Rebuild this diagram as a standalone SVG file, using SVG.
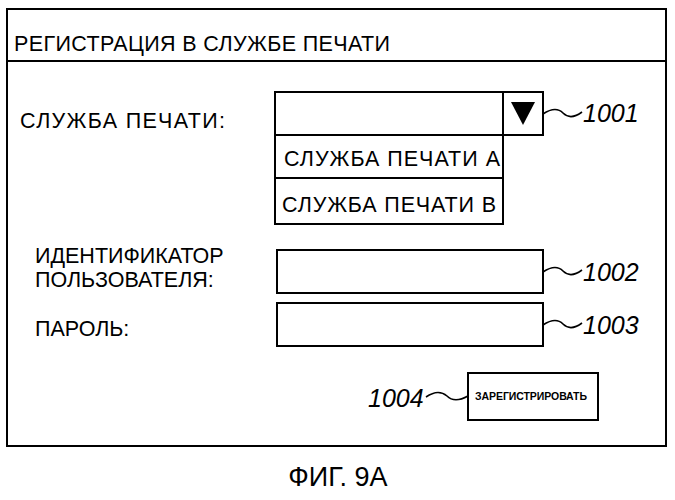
<svg xmlns="http://www.w3.org/2000/svg" width="675" height="500" viewBox="0 0 675 500">
<style>
.b{fill:#fff;stroke:#000;stroke-width:2}
.t{font-family:"Liberation Sans",Arial,sans-serif;fill:#000;font-size:21.5px}
.r{font-family:"Liberation Sans",Arial,sans-serif;font-style:italic;fill:#000;font-size:25px}
.w{fill:none;stroke:#000;stroke-width:1.6}
</style>
<rect width="675" height="500" fill="#fff"/>
<g id="window">
<rect class="b" x="7" y="9" width="659" height="437"/>
<line x1="7" y1="61" x2="666" y2="61" stroke="#000" stroke-width="2"/>
<text class="t" x="14" y="51" textLength="376">РЕГИСТРАЦИЯ В СЛУЖБЕ ПЕЧАТИ</text>
</g>
<g id="service-label"><text class="t" x="20" y="128" textLength="205">СЛУЖБА ПЕЧАТИ:</text></g>
<g id="n1001">
<rect class="b" x="275" y="92" width="268" height="43"/>
<line x1="503" y1="92" x2="503" y2="135" stroke="#000" stroke-width="2"/>
<polygon points="511,102 535,102 523,125" fill="#000"/>
<text class="r" x="583" y="122">1001</text>
</g>
<g id="itemA"><rect class="b" x="275" y="135" width="228" height="43"/><text class="t" x="284" y="166" textLength="216">СЛУЖБА ПЕЧАТИ А</text></g>
<g id="itemB"><rect class="b" x="275" y="178" width="228" height="46"/><text class="t" x="282" y="212" textLength="214">СЛУЖБА ПЕЧАТИ В</text></g>
<g id="n1002">
<text class="t" x="35" y="263">ИДЕНТИФИКАТОР</text>
<text class="t" x="35" y="287">ПОЛЬЗОВАТЕЛЯ:</text>
<rect class="b" x="277" y="250" width="266" height="43"/>
<text class="r" x="583" y="281">1002</text>
</g>
<g id="n1003">
<text class="t" x="35" y="336">ПАРОЛЬ:</text>
<rect class="b" x="277" y="303" width="266" height="43"/>
<text class="r" x="583" y="334">1003</text>
</g>
<g id="n1004">
<rect class="b" x="468" y="373" width="130" height="47"/>
<text x="531" y="400" style="font-family:'Liberation Sans',Arial,sans-serif;font-size:10.5px;font-weight:bold" text-anchor="middle" textLength="112">ЗАРЕГИСТРИРОВАТЬ</text>
<text class="r" x="368" y="407">1004</text>
</g>
<g id="connectors">
<path class="w" d="M543,114 C552,108 558,108 563,113 C568,118 574,118 582,112"/>
<path class="w" d="M543,272 C552,266 558,266 563,271 C568,276 574,276 582,270"/>
<path class="w" d="M543,325 C552,319 558,319 563,324 C568,329 574,329 582,323"/>
<path class="w" d="M426,397 C435,391 441,391 447,396 C452,401 459,401 468,396"/>
</g>
<text x="338" y="486" style="font-family:'Liberation Sans',Arial,sans-serif;font-size:27px" text-anchor="middle">ФИГ. 9А</text>
</svg>
